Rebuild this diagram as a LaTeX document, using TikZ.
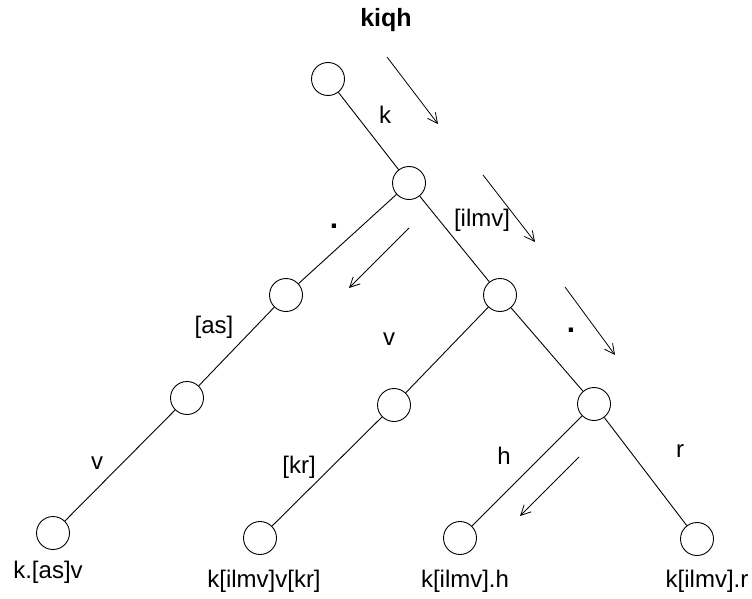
\documentclass[tikz,border=0pt]{standalone}
\usepackage{fontspec}
\setmainfont{Liberation Sans}
\usetikzlibrary{arrows.meta}
\begin{document}
\begin{tikzpicture}[x=1pt,y=-1pt,
  vert/.style={circle,draw,line width=0.9pt,minimum size=33pt,inner sep=0pt},
  edge/.style={line width=0.9pt},
  lbl/.style={anchor=base,inner sep=0pt,font=\fontsize{24}{26}\selectfont},
  dotlbl/.style={lbl,font=\fontsize{30}{32}\selectfont\bfseries},
  flow/.style={line width=0.8pt,-{Straight Barb[length=10pt,width=10pt,line width=0.8pt]}}]
\useasboundingbox (0,0) rectangle (752,599);
\node[lbl,font=\fontsize{25}{27}\selectfont\bfseries] (title) at (386,27) {kiqh};
% vertices
\node[vert] (r) at (328,79) {};
\node[vert] (a) at (409,183) {};
\node[vert] (b1) at (286,295) {};
\node[vert] (b2) at (187,398) {};
\node[vert] (b3) at (53,533) {};
\node[vert] (c) at (500,295) {};
\node[vert] (d1) at (394,405) {};
\node[vert] (d2) at (260,538) {};
\node[vert] (e) at (594,404) {};
\node[vert] (f) at (460,538) {};
\node[vert] (g) at (697,539) {};
% edges
\draw[edge] (r) -- (a);
\draw[edge] (a) -- (b1);
\draw[edge] (b1) -- (b2);
\draw[edge] (b2) -- (b3);
\draw[edge] (a) -- (c);
\draw[edge] (c) -- (d1);
\draw[edge] (d1) -- (d2);
\draw[edge] (c) -- (e);
\draw[edge] (e) -- (f);
\draw[edge] (e) -- (g);
% edge labels
\node[lbl] (lk) at (385,124) {k};
\node[dotlbl] (ld1) at (334,228) {.};
\node[lbl] (lilmv) at (482,226) {[ilmv]};
\node[lbl] (las) at (214,333) {[as]};
\node[lbl] (lv1) at (389,345) {v};
\node[dotlbl] (ld2) at (571,332) {.};
\node[lbl] (lv2) at (97,469) {v};
\node[lbl] (lkr) at (299,473) {[kr]};
\node[lbl] (lh) at (504,464) {h};
\node[lbl] (lr) at (680,457) {r};
% leaf labels
\node[lbl] (t1) at (48,578) {k.[as]v};
\node[lbl] (t2) at (264,587) {k[ilmv]v[kr]};
\node[lbl] (t3) at (465,587) {k[ilmv].h};
\node[lbl] (t4) at (707,587) {k[ilmv].r};
% flow arrows
\coordinate (p1s) at (387,57); \coordinate (p1e) at (438,124);
\coordinate (p2s) at (483,175); \coordinate (p2e) at (535,242);
\coordinate (p3s) at (409,228); \coordinate (p3e) at (349,288);
\coordinate (p4s) at (565,287); \coordinate (p4e) at (615,355);
\coordinate (p5s) at (579,457); \coordinate (p5e) at (520,516);
\draw[flow] (p1s) -- (p1e);
\draw[flow] (p2s) -- (p2e);
\draw[flow] (p3s) -- (p3e);
\draw[flow] (p4s) -- (p4e);
\draw[flow] (p5s) -- (p5e);
\end{tikzpicture}
\end{document}
